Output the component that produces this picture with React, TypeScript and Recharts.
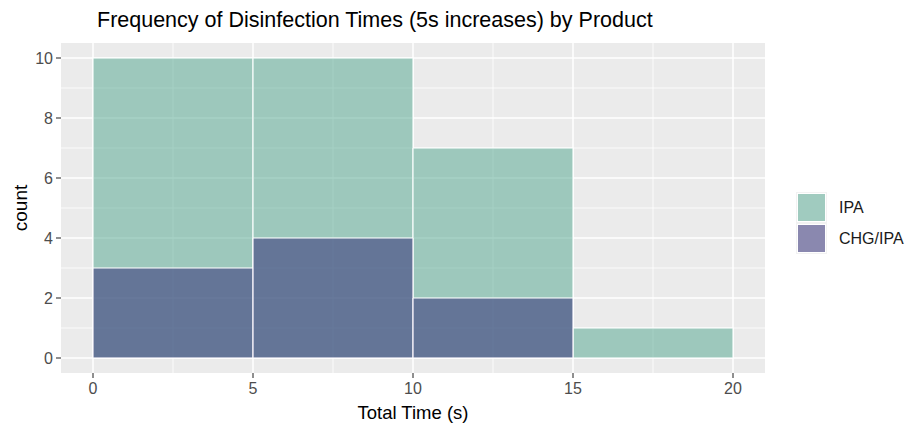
import React from "react";
import {
  ComposedChart,
  Bar,
  XAxis,
  YAxis,
  CartesianGrid,
  Legend,
  Label,
} from "recharts";

// ---- data ----
const binStarts = [0, 5, 10, 15];
const binWidth = 5;
const ipaCounts = [10, 10, 7, 1];
const chgCounts = [3, 4, 2, 0];
const seriesNames = ["IPA", "CHG/IPA"];
const xTicks = [0, 5, 10, 15, 20];
const yTicks = [0, 2, 4, 6, 8, 10];
const xMinor = [2.5, 7.5, 12.5, 17.5];
const yMinor = [1, 3, 5, 7, 9];

const data = binStarts.map((s, i) => ({
  mid: s + binWidth / 2,
  ipa: ipaCounts[i],
  chg: chgCounts[i],
}));

const FONT = "'Liberation Sans', Arial, Helvetica, sans-serif";
const ALPHA = 0.55;
const IPA_COLOR = "#5dab96";
const CHG_COLOR = "#343179";

const LegendContent = (props: any) => {
  const payload = [...(props.payload || [])].sort(
    (a: any, b: any) =>
      seriesNames.indexOf(a.value) - seriesNames.indexOf(b.value)
  );
  return (
    <div style={{ fontFamily: FONT }}>
      {payload.map((e: any) => (
        <div
          key={e.value}
          style={{ display: "flex", alignItems: "center", height: 31 }}
        >
          <svg width={31} height={31} style={{ display: "block" }}>
            <rect x={0} y={0} width={31} height={31} fill="#f2f2f2" />
            <rect
              x={1.5}
              y={1.5}
              width={28}
              height={28}
              fill={e.color}
              fillOpacity={ALPHA}
              stroke="#ffffff"
              strokeWidth={1}
            />
          </svg>
          <span
            style={{
              marginLeft: 12,
              fontSize: 16,
              color: "#1a1a1a",
              whiteSpace: "nowrap",
            }}
          >
            {e.value}
          </span>
        </div>
      ))}
    </div>
  );
};

const YTitle = (props: any) => {
  const vb = props.viewBox || { x: 0, y: 0, width: 0, height: 0 };
  const cx = vb.x + 20;
  const cy = vb.y + vb.height / 2;
  return (
    <text
      x={cx}
      y={cy}
      transform={`rotate(-90, ${cx}, ${cy})`}
      textAnchor="middle"
      dominantBaseline="central"
      fontSize={19}
      fill="#000"
      fontFamily={FONT}
    >
      count
    </text>
  );
};

export default function App() {
  return (
    <div
      style={{
        position: "absolute",
        left: 0,
        top: 0,
        width: 906,
        height: 423,
        background: "#ffffff",
        fontFamily: FONT,
      }}
    >
      <ComposedChart
        width={906}
        height={423}
        data={data}
        margin={{ top: 43, right: 141, bottom: 0, left: 0 }}
        barCategoryGap={0}
        barGap={0}
      >
        <CartesianGrid
          xAxisId="a"
          yAxisId="y"
          fill="#ebebeb"
          stroke="#ffffff"
          strokeWidth={0.8}
          verticalValues={xMinor}
          horizontalValues={yMinor}
        />
        <CartesianGrid
          xAxisId="a"
          yAxisId="y"
          stroke="#ffffff"
          strokeWidth={1.5}
          verticalValues={xTicks}
          horizontalValues={yTicks}
        />
        <XAxis
          xAxisId="a"
          dataKey="mid"
          type="number"
          domain={[-1, 21]}
          allowDataOverflow
          ticks={xTicks}
          interval={0}
          height={50}
          axisLine={false}
          tickLine={{ stroke: "#333333", strokeWidth: 1.1 }}
          tickSize={5}
          tickMargin={5}
          tick={{ fill: "#4d4d4d", fontSize: 16, fontFamily: FONT }}
        >
          <Label
            value="Total Time (s)"
            position="insideBottom"
            offset={4}
            style={{ fontSize: 18.5, fill: "#000", fontFamily: FONT }}
          />
        </XAxis>
        <XAxis
          xAxisId="b"
          dataKey="mid"
          type="number"
          domain={[-1, 21]}
          allowDataOverflow
          hide
        />
        <YAxis
          yAxisId="y"
          type="number"
          domain={[-0.5, 10.5]}
          allowDataOverflow
          ticks={yTicks}
          interval={0}
          width={61}
          axisLine={false}
          tickLine={{ stroke: "#333333", strokeWidth: 1.1 }}
          tickSize={5}
          tickMargin={3}
          tick={{ fill: "#4d4d4d", fontSize: 16, fontFamily: FONT }}
        >
          <Label content={<YTitle />} />
        </YAxis>
        <Legend
          layout="vertical"
          align="center"
          verticalAlign="middle"
          content={<LegendContent />}
          wrapperStyle={{ left: 796, top: 192, width: 110, height: 64 }}
        />
        <Bar
          xAxisId="a"
          yAxisId="y"
          dataKey="ipa"
          name={seriesNames[0]}
          fill={IPA_COLOR}
          fillOpacity={ALPHA}
          stroke="#ffffff"
          strokeWidth={1}
          isAnimationActive={false}
        />
        <Bar
          xAxisId="b"
          yAxisId="y"
          dataKey="chg"
          name={seriesNames[1]}
          fill={CHG_COLOR}
          fillOpacity={ALPHA}
          stroke="#ffffff"
          strokeWidth={1}
          isAnimationActive={false}
        />
      </ComposedChart>
      <div
        style={{
          position: "absolute",
          left: 97,
          top: 10,
          fontSize: 21.5,
          lineHeight: "21.5px",
          color: "#000",
          whiteSpace: "nowrap",
          fontFamily: FONT,
        }}
      >
        Frequency of Disinfection Times (5s increases) by Product
      </div>
    </div>
  );
}
